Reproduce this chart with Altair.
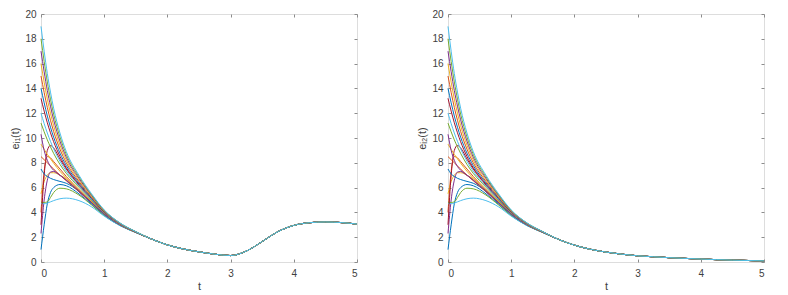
import altair as alt
import pandas as pd

# time grid of the transient part and of the common tail
T_HEAD = [0, 0.05, 0.1, 0.15, 0.2, 0.3, 0.4, 0.6, 0.8, 1.0, 1.25, 1.5]
T_TAIL = [1.75, 2.0, 2.25, 2.5, 2.75, 3.0, 3.25, 3.5, 3.75, 4.0, 4.25, 4.5, 4.75, 5.0]

# common tail after the trajectories have merged
TAIL_E1 = [1.85, 1.38, 1.05, 0.82, 0.63, 0.52, 0.88, 1.65, 2.45, 2.95, 3.17, 3.23, 3.18, 3.06]
TAIL_E2 = [1.82, 1.36, 1.03, 0.8, 0.63, 0.5, 0.42, 0.35, 0.29, 0.24, 0.19, 0.15, 0.12, 0.09]

# transient part of each of the 20 trajectories (same in both panels)
HEADS = [
    [1.0, 3.0, 4.7, 5.6, 6.0, 6.25, 6.15, 5.5, 4.65, 3.75, 2.95, 2.38],
    [4.0, 7.3, 8.5, 8.4, 8.1, 7.5, 6.9, 5.85, 4.85, 3.9, 3.0, 2.4],
    [5.5, 6.5, 7.0, 7.2, 7.2, 7.0, 6.7, 5.8, 4.8, 3.88, 3.0, 2.4],
    [2.3, 5.0, 6.6, 7.25, 7.3, 7.0, 6.6, 5.65, 4.75, 3.85, 3.0, 2.4],
    [4.8, 4.8, 4.85, 5.2, 5.6, 5.95, 5.9, 5.4, 4.6, 3.75, 2.95, 2.38],
    [4.7, 4.7, 4.75, 4.85, 4.95, 5.1, 5.15, 4.95, 4.45, 3.7, 2.93, 2.37],
    [3.0, 7.0, 9.0, 9.4, 9.2, 8.3, 7.5, 6.2, 5.0, 3.95, 3.03, 2.41],
    [7.5, 7.1, 6.9, 6.75, 6.65, 6.5, 6.35, 5.7, 4.75, 3.85, 2.98, 2.39],
    [8.5, 8.25, 8.0, 7.75, 7.5, 7.0, 6.55, 5.7, 4.8, 3.9, 3.0, 2.4],
    [9.5, 9.08, 8.68, 8.32, 7.97, 7.32, 6.77, 5.82, 4.87, 3.93, 3.01, 2.40],
    [10.3, 9.0, 8.2, 7.7, 7.4, 7.0, 6.6, 5.75, 4.8, 3.88, 3.0, 2.4],
    [11.2, 10.50, 9.85, 9.28, 8.76, 7.87, 7.15, 6.03, 4.98, 3.98, 3.04, 2.41],
    [12.0, 11.16, 10.40, 9.73, 9.13, 8.13, 7.33, 6.13, 5.03, 4.00, 3.05, 2.42],
    [13.2, 12.17, 11.23, 10.42, 9.70, 8.52, 7.60, 6.28, 5.11, 4.03, 3.07, 2.42],
    [14.0, 12.84, 11.77, 10.87, 10.07, 8.78, 7.78, 6.38, 5.17, 4.06, 3.08, 2.43],
    [15.0, 13.67, 12.46, 11.43, 10.53, 9.10, 8.00, 6.50, 5.23, 4.09, 3.09, 2.43],
    [16.0, 14.50, 13.14, 12.00, 11.00, 9.43, 8.23, 6.63, 5.30, 4.11, 3.11, 2.44],
    [17.0, 15.34, 13.83, 12.57, 11.47, 9.75, 8.45, 6.75, 5.37, 4.14, 3.12, 2.44],
    [18.0, 16.17, 14.52, 13.13, 11.93, 10.08, 8.68, 6.88, 5.43, 4.17, 3.14, 2.45],
    [19.0, 17.0, 15.2, 13.7, 12.4, 10.4, 8.9, 7.0, 5.5, 4.2, 3.15, 2.45],
]

MATLAB_COLORS = ["#0072BD", "#D95319", "#EDB120", "#7E2F8E", "#77AC30", "#4DBEEE", "#A2142F"]
X_TICKS = [0, 1, 2, 3, 4, 5]
Y_TICKS = [0, 2, 4, 6, 8, 10, 12, 14, 16, 18, 20]

W, H = 316, 248
FONT = "Liberation Sans"
LABEL_COLOR = "#404040"
LINE_GRAY = "#8c8c8c"

keys = [f"{k:02d}" for k in range(len(HEADS))]
colors = [MATLAB_COLORS[k % 7] for k in range(len(HEADS))]


def build_df(tail):
    rows = []
    for k, head in enumerate(HEADS):
        for t, v in zip(T_HEAD + T_TAIL, head + tail):
            rows.append({"k": keys[k], "t": t, "e": v})
    return pd.DataFrame(rows)


def panel(df, ytitle):
    xs = alt.Scale(domain=[0, 5], nice=False)
    ys = alt.Scale(domain=[0, 20], nice=False)
    color = alt.Color("k:N", scale=alt.Scale(domain=keys, range=colors), legend=None)
    base = alt.Chart(df)

    main = base.mark_line(strokeWidth=1, interpolate="monotone").encode(
        x=alt.X("t:Q", scale=xs, axis=alt.Axis(
            values=X_TICKS, title="t", ticks=False, tickSize=0, domain=False, grid=False,
            labelFont=FONT, labelFontSize=10, labelColor=LABEL_COLOR, labelPadding=6,
            titleFont=FONT, titleFontSize=11, titleFontWeight="normal", titleColor=LABEL_COLOR,
            titlePadding=2)),
        y=alt.Y("e:Q", scale=ys, axis=alt.Axis(
            values=Y_TICKS, title=ytitle, ticks=False, tickSize=0, domain=False, grid=False,
            labelFont=FONT, labelFontSize=10, labelColor=LABEL_COLOR, labelPadding=5,
            titleFont=FONT, titleFontSize=11, titleFontWeight="normal", titleColor=LABEL_COLOR,
            titlePadding=4)),
        color=color,
        detail="k:N",
    )

    def tick_axis(orient, offset, values):
        return alt.Axis(values=values, orient=orient, offset=offset, ticks=True, tickSize=3,
                        tickColor=LINE_GRAY, labels=False, domain=False, grid=False, title=None)

    inner_a = base.mark_line(strokeOpacity=0).encode(
        x=alt.X("t:Q", scale=xs, axis=tick_axis("top", -H, X_TICKS)),
        y=alt.Y("e:Q", scale=ys, axis=tick_axis("right", -W, Y_TICKS)),
        detail="k:N",
    )
    inner_b = base.mark_line(strokeOpacity=0).encode(
        x=alt.X("t:Q", scale=xs, axis=tick_axis("bottom", -H, X_TICKS)),
        y=alt.Y("e:Q", scale=ys, axis=tick_axis("left", -W, Y_TICKS)),
        detail="k:N",
    )
    return (
        alt.layer(main, inner_a, inner_b)
        .resolve_axis(x="independent", y="independent")
        .properties(width=W, height=H)
    )


left = panel(build_df(TAIL_E1), "eᵢ₁(t)")
right = panel(build_df(TAIL_E2), "eᵢ₂(t)")

chart = (
    alt.hconcat(left, right, spacing=56)
    .properties(padding={"left": 1, "top": 0, "right": 0, "bottom": 0})
    .configure_view(stroke=LINE_GRAY, strokeWidth=1)
    .configure(background="white")
)

chart.save("out.html", embed_options={"renderer": "svg", "actions": False})
